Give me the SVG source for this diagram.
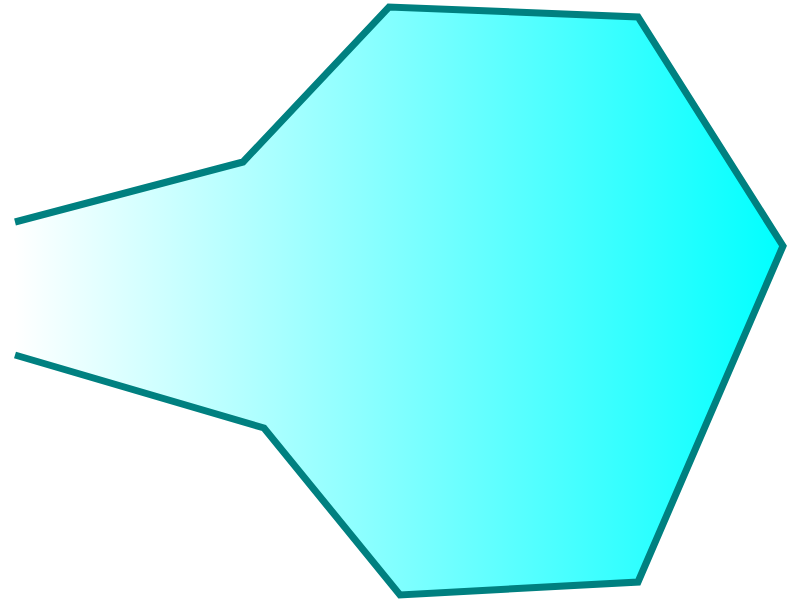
<svg xmlns="http://www.w3.org/2000/svg" width="797" height="601" viewBox="0 0 797 601">
<defs>
<linearGradient id="g" gradientUnits="userSpaceOnUse" x1="15" y1="0" x2="784" y2="0">
<stop offset="0" stop-color="#ffffff"/>
<stop offset="1" stop-color="#00ffff"/>
</linearGradient>
<style>
.fill{fill:url(#g);stroke:none}
.edge{fill:none;stroke:#008080;stroke-width:7;stroke-linejoin:miter;stroke-linecap:butt}
</style>
</defs>
<g id="shape">
<path class="fill" d="M15,222 L243,162 L389,7 L638,17 L783,246 L638,582 L400,595 L264,428 L15,355 Z"/>
<path class="edge" d="M15,222 L243,162 L389,7 L638,17 L783,246 L638,582 L400,595 L264,428 L15,355"/>
</g>
</svg>
